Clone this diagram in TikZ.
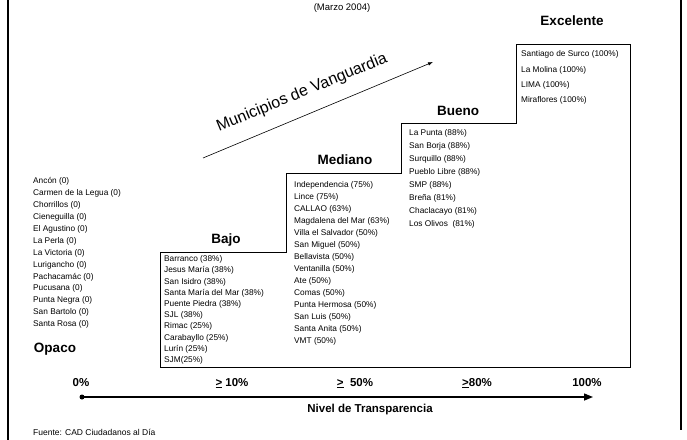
\documentclass[tikz,border=0pt]{standalone}
\usepackage{fontspec}
\setmainfont{Liberation Sans}
\usetikzlibrary{arrows.meta}
\begin{document}
\begin{tikzpicture}[x=1pt,y=-1pt,
  munlist/.style={anchor=north west, align=left, inner sep=0pt, font=\fontsize{8.3}{#1}\selectfont},
  head/.style={font=\fontsize{13.5}{16}\selectfont\bfseries, inner sep=0pt},
  pct/.style={font=\fontsize{11.5}{14}\selectfont\bfseries, inner sep=0pt},
  stair/.style={draw=black, line width=0.9pt},
  frame/.style={line width=1.8pt},
]
\useasboundingbox (0,0) rectangle (687,439);
% frame
\draw[frame] (8,-2) -- (8,441);
\draw[frame] (681,-2) -- (681,430);
% title
\node[font=\fontsize{9.5}{11}\selectfont, inner sep=0pt] (marzo) at (342,8) {(Marzo 2004)};
% staircase
\coordinate (s1) at (160,367);
\coordinate (s2) at (160,252);
\coordinate (s3) at (286,252);
\coordinate (s4) at (286,173);
\coordinate (s5) at (401,173);
\coordinate (s6) at (401,123);
\coordinate (s7) at (516,123);
\coordinate (s8) at (516,44);
\coordinate (s9) at (630,44);
\coordinate (s10) at (630,367);
\draw[stair] (s1) -- (s2) -- (s3) -- (s4) -- (s5) -- (s6) -- (s7) -- (s8) -- (s9) -- (s10) -- cycle;
% headings
\node[head] (hexc) at (572,21) {Excelente};
\node[head] (hbue) at (458,111) {Bueno};
\node[head] (hmed) at (345,160) {Mediano};
\node[head] (hbaj) at (226,240) {Bajo};
\node[head] (hopa) at (55,349) {Opaco};
% lists
\node[munlist=11.9] (lopa) at (33,177.5) {Ancón (0)\\Carmen de la Legua (0)\\Chorrillos (0)\\Cieneguilla (0)\\El Agustino (0)\\La Perla (0)\\La Victoria (0)\\Lurigancho (0)\\Pachacamác (0)\\Pucusana (0)\\Punta Negra (0)\\San Bartolo (0)\\Santa Rosa (0)};
\node[munlist=11.2] (lbaj) at (164,255.5) {Barranco (38\%)\\Jesus María (38\%)\\San Isidro (38\%)\\Santa María del Mar (38\%)\\Puente Piedra (38\%)\\SJL (38\%)\\Rimac (25\%)\\Carabayllo (25\%)\\Lurín (25\%)\\SJM(25\%)};
\node[munlist=12] (lmed) at (294,181.5) {Independencia (75\%)\\Lince (75\%)\\CALLAO (63\%)\\Magdalena del Mar (63\%)\\Villa el Salvador (50\%)\\San Miguel (50\%)\\Bellavista (50\%)\\Ventanilla (50\%)\\Ate (50\%)\\Comas (50\%)\\Punta Hermosa (50\%)\\San Luis (50\%)\\Santa Anita (50\%)\\VMT (50\%)};
\node[munlist=13] (lbue) at (409,129.5) {La Punta (88\%)\\San Borja (88\%)\\Surquillo (88\%)\\Pueblo Libre (88\%)\\SMP (88\%)\\Breña (81\%)\\Chaclacayo (81\%)\\Los Olivos~ (81\%)};
\node[munlist=15.3] (lexc) at (521,50.5) {Santiago de Surco (100\%)\\La Molina (100\%)\\LIMA (100\%)\\Miraflores (100\%)};
% diagonal arrow
\coordinate (d1) at (203,158);
\coordinate (d2) at (433,62);
\draw[line width=0.6pt, -{Latex[length=5pt,width=3.5pt]}] (d1) -- (d2);
\node[font=\fontsize{16}{18}\selectfont, rotate=22.5, inner sep=0pt] (mv) at (302,93) {Municipios de Vanguardia};
% percent labels
\node[pct] (p0) at (81,383) {0\%};
\node[pct] (p10) at (232,383) {\underline{>} 10\%};
\node[pct] (p50) at (355,383) {\underline{>}\ \ 50\%};
\node[pct] (p80) at (477,383) {\underline{>}80\%};
\node[pct] (p100) at (587,383) {100\%};
% main axis
\node[circle, fill=black, inner sep=0pt, minimum size=5pt] (dot) at (82,397) {};
\coordinate (aend) at (593,397);
\draw[line width=1.4pt, -{Triangle[length=9pt,width=7pt]}] (dot.center) -- (aend);
\node[pct] (nivel) at (370,410) {Nivel de Transparencia};
\node[font=\fontsize{8.5}{10}\selectfont, anchor=west, inner sep=0pt] (fuente) at (33,432) {Fuente: CAD Ciudadanos al Día};
\end{tikzpicture}
\end{document}
